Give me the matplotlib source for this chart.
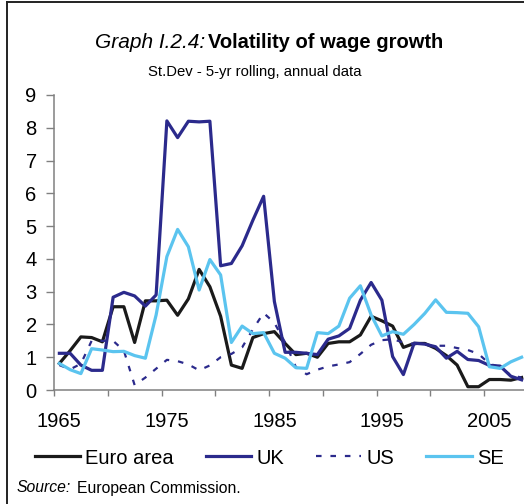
import numpy as np
import matplotlib.pyplot as plt
from matplotlib.lines import Line2D

plt.rcParams['font.family'] = ['Liberation Sans', 'DejaVu Sans']

years = list(range(1965, 2009))
euro = [0.81, 1.2, 1.62, 1.6, 1.47, 2.54, 2.54, 1.45, 2.72, 2.72,
        2.74, 2.28, 2.78, 3.68, 3.15, 2.25, 0.76, 0.66, 1.6, 1.72,
        1.78, 1.42, 1.08, 1.12, 1.0, 1.42, 1.47, 1.47, 1.68, 2.25,
        2.11, 1.95, 1.3, 1.42, 1.42, 1.27, 1.05, 0.76, 0.1, 0.1,
        0.32, 0.32, 0.3, 0.38]
uk = [1.12, 1.12, 0.76, 0.6, 0.6, 2.83, 2.98, 2.87, 2.56, 2.9,
      8.21, 7.7, 8.2, 8.18, 8.2, 3.79, 3.86, 4.4, 5.18, 5.91,
      2.7, 1.15, 1.15, 1.12, 1.08, 1.55, 1.65, 1.88, 2.74, 3.28,
      2.74, 1.02, 0.47, 1.43, 1.4, 1.32, 0.97, 1.18, 0.93, 0.9,
      0.75, 0.73, 0.42, 0.31]
us = [0.76, 0.63, 0.8, 1.5, 1.5, 1.5, 1.2, 0.15, 0.38, 0.65,
      0.92, 0.88, 0.78, 0.6, 0.75, 1.0, 1.1, 1.3, 1.85, 2.35,
      2.05, 1.45, 0.7, 0.48, 0.62, 0.72, 0.78, 0.85, 1.1, 1.38,
      1.52, 1.55, 1.45, 1.4, 1.38, 1.35, 1.35, 1.28, 1.22, 1.1,
      0.8, 0.7, 0.45, 0.38]
se = [0.81, 0.62, 0.5, 1.26, 1.22, 1.17, 1.18, 1.05, 0.97, 2.29,
      4.07, 4.9, 4.37, 3.05, 3.98, 3.51, 1.45, 1.95, 1.72, 1.75,
      1.12, 0.97, 0.68, 0.66, 1.75, 1.72, 1.95, 2.8, 3.18, 2.29,
      1.65, 1.78, 1.7, 2.0, 2.34, 2.75, 2.37, 2.36, 2.34, 1.93,
      0.71, 0.66, 0.86, 1.0]
xlabels = [1965, 1975, 1985, 1995, 2005]

W, H = 524, 504
fig = plt.figure(figsize=(W / 100, H / 100), dpi=100)
ax = fig.add_axes([54 / W, 1 - 390 / H, 473 / W, 295 / H])

navy = '#2b2a8c'
ax.plot(years, euro, color='#1a1a1a', lw=2.3, label='Euro area')
ax.plot(years, uk, color=navy, lw=2.3, label='UK')
ax.plot(years, us, color=navy, lw=1.6, ls=(0, (2.5, 4)), label='US')
ax.plot(years, se, color='#5bc4ef', lw=2.3, label='SE')

ax.set_xlim(1964.5, 2008.5)
ax.set_ylim(0, 9)
ax.set_yticks(range(10))
ax.set_xticks(xlabels)
ax.set_xticks(np.arange(1964.5, 2009, 5), minor=True)
ax.tick_params(axis='x', which='major', length=0, pad=16, labelsize=14.5)
ax.tick_params(axis='x', which='minor', length=4, width=1, color='#808080', direction='out')
ax.tick_params(axis='y', length=5.5, width=1, color='#808080', pad=7, labelsize=14.5)
for s in ['top', 'right']:
    ax.spines[s].set_visible(False)
for s in ['left', 'bottom']:
    ax.spines[s].set_color('#808080')
    ax.spines[s].set_linewidth(1.1)

fig.text(205 / W, 1 - 43 / H, 'Graph I.2.4:', ha='right', va='center',
         fontsize=15, style='italic')
fig.text(208 / W, 1 - 43 / H, 'Volatility of wage growth', ha='left', va='center',
         fontsize=14.5, weight='bold')
fig.text(255 / W, 1 - 72 / H, 'St.Dev - 5-yr rolling, annual data', ha='center',
         va='center', fontsize=10.7)

fig.legend(loc='center', bbox_to_anchor=(269 / W, 1 - 458 / H), ncol=4, frameon=False,
           fontsize=14.5, handlelength=2.25, handletextpad=0.25, columnspacing=1.6)

fig.text(17 / W, 1 - 488 / H, 'Source:', ha='left', va='center', fontsize=11.3,
         style='italic')
fig.text(77 / W, 1 - 488 / H, 'European Commission.', ha='left', va='center',
         fontsize=11.3)

fig.add_artist(Line2D([7 / W, 7 / W], [0, 1 - 2 / H], color='#222222', lw=1.4))
fig.add_artist(Line2D([7 / W, 1], [1 - 2 / H, 1 - 2 / H], color='#222222', lw=1.4))

fig.savefig('out.png', dpi=100)
